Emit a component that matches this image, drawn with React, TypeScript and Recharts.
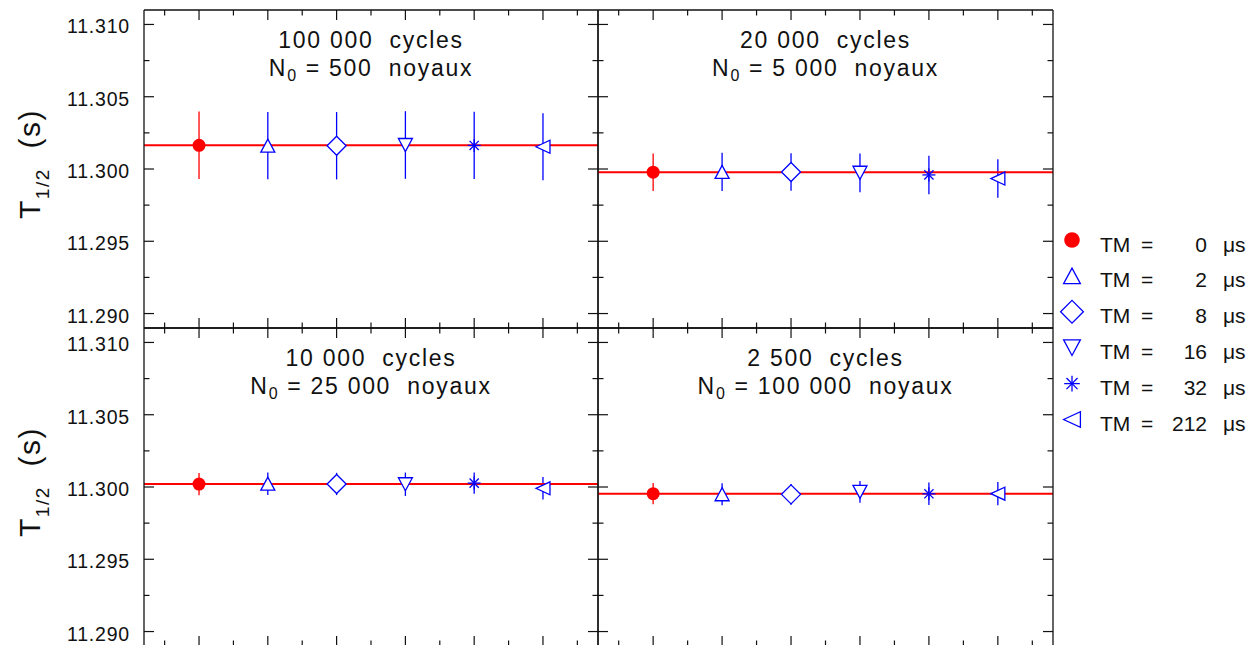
import React from "react";
import {
  ScatterChart,
  Scatter,
  XAxis,
  YAxis,
  ErrorBar,
  ReferenceLine,
  Legend,
} from "recharts";

const TM_VALUES = [0, 2, 8, 16, 32, 212];
const X_POSITIONS = [1, 2, 3, 4, 5, 6];
const SYMBOLS = ["circle", "up", "diamond", "down", "star", "left"];

const CYCLES = ["100 000", "20 000", "10 000", "2 500"];
const NUCLEI = ["500", "5 000", "25 000", "100 000"];

const T_100000 = [11.30164, 11.30162, 11.30161, 11.30166, 11.30163, 11.30154];
const ERR_100000 = [0.00233, 0.00233, 0.00233, 0.00234, 0.00233, 0.00232];
const T_20000 = [11.29978, 11.2998, 11.29979, 11.29974, 11.29959, 11.29934];
const ERR_20000 = [0.0013, 0.00133, 0.0013, 0.00134, 0.00133, 0.00133];
const T_10000 = [11.3002, 11.30023, 11.30021, 11.30019, 11.30027, 11.29991];
const ERR_10000 = [0.00077, 0.00078, 0.00077, 0.00081, 0.00073, 0.00078];
const T_2500 = [11.29954, 11.2995, 11.29949, 11.29966, 11.29953, 11.29954];
const ERR_2500 = [0.00074, 0.00076, 0.00072, 0.00075, 0.00078, 0.0008];
const FITS = [11.30165, 11.29977, 11.30021, 11.29954];

const Y_TICKS = [11.29, 11.2925, 11.295, 11.2975, 11.3, 11.3025, 11.305, 11.3075, 11.31];
const X_TICKS = [0.5, 1, 1.5, 2, 2.5, 3, 3.5, 4, 4.5, 5, 5.5, 6, 6.5];

const RED = "#ff0000";
const BLUE = "#0000ff";
const INK = "#111";
const FONT = "'Liberation Sans', Arial, sans-serif";
const NB = "\u00a0";

const isMajorY = (v: number) => Math.abs(v * 200 - Math.round(v * 200)) < 1e-6;
const isMajorX = (v: number) => Math.abs(v - Math.round(v)) < 1e-6;

const Marker = ({ kind, cx, cy, s = 1 }: any) => {
  if (cx == null || cy == null) return null;
  const sw = 1.3;
  switch (kind) {
    case "circle":
      return <circle cx={cx} cy={cy} r={6.5 * s} fill={RED} />;
    case "up":
      return (
        <polygon
          points={`${cx - 7 * s},${cy + 6.5 * s} ${cx + 7 * s},${cy + 6.5 * s} ${cx},${cy - 6.5 * s}`}
          fill="#fff"
          stroke={BLUE}
          strokeWidth={sw}
        />
      );
    case "down":
      return (
        <polygon
          points={`${cx - 7 * s},${cy - 6.5 * s} ${cx + 7 * s},${cy - 6.5 * s} ${cx},${cy + 6.5 * s}`}
          fill="#fff"
          stroke={BLUE}
          strokeWidth={sw}
        />
      );
    case "diamond":
      return (
        <polygon
          points={`${cx},${cy - 9.5 * s} ${cx + 9.5 * s},${cy} ${cx},${cy + 9.5 * s} ${cx - 9.5 * s},${cy}`}
          fill="#fff"
          stroke={BLUE}
          strokeWidth={sw}
        />
      );
    case "left":
      return (
        <polygon
          points={`${cx - 7 * s},${cy} ${cx + 7 * s},${cy - 6.5 * s} ${cx + 7 * s},${cy + 6.5 * s}`}
          fill="#fff"
          stroke={BLUE}
          strokeWidth={sw}
        />
      );
    case "star": {
      const a = 6.5 * s;
      const d = 4.6 * s;
      return (
        <g stroke={BLUE} strokeWidth={sw}>
          <line x1={cx} y1={cy - a} x2={cx} y2={cy + a} />
          <line x1={cx - a} y1={cy} x2={cx + a} y2={cy} />
          <line x1={cx - d} y1={cy - d} x2={cx + d} y2={cy + d} />
          <line x1={cx - d} y1={cy + d} x2={cx + d} y2={cy - d} />
        </g>
      );
    }
    default:
      return null;
  }
};

const XTick = ({ x, y, payload, side }: any) => {
  const len = isMajorX(payload.value) ? 10 : 5.5;
  const dir = side === "bottom" ? -1 : 1;
  return <line x1={x} x2={x} y1={y} y2={y + dir * len} stroke={INK} strokeWidth={1.2} />;
};

const YTick = ({ x, y, payload, side, labelled }: any) => {
  const major = isMajorY(payload.value);
  const len = major ? 10 : 5.5;
  const dir = side === "left" ? 1 : -1;
  return (
    <g>
      <line x1={x} x2={x + dir * len} y1={y} y2={y} stroke={INK} strokeWidth={1.2} />
      {labelled && major && (
        <text
          x={x - 14}
          y={y + 9}
          textAnchor="end"
          fontSize={19.5}
          letterSpacing={0.8}
          fontFamily={FONT}
          fill={INK}
        >
          {payload.value.toFixed(3)}
        </text>
      )}
    </g>
  );
};

const YTitle = ({ viewBox }: any) => {
  const vb = viewBox || { x: 0, y: 0 };
  const x = 40;
  const y = vb.y + 209;
  return (
    <text
      transform={`rotate(-90 ${x} ${y})`}
      x={x}
      y={y}
      fontSize={30}
      letterSpacing={1.5}
      fontFamily={FONT}
      fill={INK}
    >
      T
      <tspan fontSize={19} dy={9}>
        1/2
      </tspan>
      <tspan dy={-9}>{`${NB}${NB}(s)`}</tspan>
    </text>
  );
};

const PanelTitle = ({ viewBox, cycles, nuclei }: any) => {
  const vb = viewBox || { x: 0, y: 0, width: 0 };
  const cx = vb.x + vb.width / 2;
  return (
    <g fontFamily={FONT} fontSize={23} fill={INK}>
      <text x={cx} y={vb.y + 38.5} textAnchor="middle" letterSpacing={1.7}>
        {`${cycles}${NB}${NB}cycles`}
      </text>
      <text x={cx} y={vb.y + 67} textAnchor="middle" letterSpacing={1.7}>
        N
        <tspan fontSize={16} dy={5}>
          0
        </tspan>
        <tspan dy={-5}>{` = ${nuclei}${NB}${NB}noyaux`}</tspan>
      </text>
    </g>
  );
};

const LegendBox = () => (
  <svg width={200} height={220} style={{ display: "block", overflow: "visible" }}>
    {SYMBOLS.map((s, i) => {
      const cy = 18 + i * 35.9;
      const ty = cy + 11.5;
      return (
        <g key={s} fontFamily={FONT} fontSize={21} fill={INK}>
          <Marker kind={s} cx={17} cy={cy} s={1.2} />
          <text x={45} y={ty}>TM</text>
          <text x={86} y={ty}>=</text>
          <text x={152} y={ty} textAnchor="end">
            {TM_VALUES[i]}
          </text>
          <text x={168} y={ty}>μs</text>
        </g>
      );
    })}
  </svg>
);

const Panel = ({ idx, values, errors, left, top, labelled, withLegend }: any) => {
  const axisW = labelled ? 144 : 1;
  const plotW = labelled ? 454 : 455;
  const extra = withLegend ? 200 : 0;
  const width = axisW + plotW + 1 + extra;
  const height = 320;
  return (
    <div style={{ position: "absolute", left, top, width, height }}>
      <ScatterChart
        width={width}
        height={height}
        margin={{ top: 0, right: extra, bottom: 0, left: 0 }}
      >
        <XAxis
          xAxisId="b"
          type="number"
          dataKey="x"
          domain={[0.2, 6.8]}
          ticks={X_TICKS}
          interval={0}
          allowDataOverflow
          height={1}
          tickSize={0}
          tickMargin={0}
          tickLine={false}
          axisLine={{ stroke: INK, strokeWidth: 1.3 }}
          tick={(p: any) => <XTick {...p} side="bottom" />}
        />
        <XAxis
          xAxisId="t"
          orientation="top"
          type="number"
          dataKey="x"
          domain={[0.2, 6.8]}
          ticks={X_TICKS}
          interval={0}
          allowDataOverflow
          height={1}
          tickSize={0}
          tickMargin={0}
          tickLine={false}
          axisLine={{ stroke: INK, strokeWidth: 1.3 }}
          tick={(p: any) => <XTick {...p} side="top" />}
          label={<PanelTitle cycles={CYCLES[idx]} nuclei={NUCLEI[idx]} />}
        />
        <YAxis
          yAxisId="l"
          type="number"
          dataKey="y"
          domain={[11.289, 11.311]}
          ticks={Y_TICKS}
          interval={0}
          allowDataOverflow
          width={axisW}
          tickSize={0}
          tickMargin={0}
          tickLine={false}
          axisLine={{ stroke: INK, strokeWidth: 1.3 }}
          tick={(p: any) => <YTick {...p} side="left" labelled={labelled} />}
          label={labelled ? <YTitle /> : undefined}
        />
        <YAxis
          yAxisId="r"
          orientation="right"
          type="number"
          dataKey="y"
          domain={[11.289, 11.311]}
          ticks={Y_TICKS}
          interval={0}
          allowDataOverflow
          width={1}
          tickSize={0}
          tickMargin={0}
          tickLine={false}
          axisLine={{ stroke: INK, strokeWidth: 1.3 }}
          tick={(p: any) => <YTick {...p} side="right" labelled={false} />}
        />
        {SYMBOLS.map((s, i) => (
          <Scatter
            key={s}
            name={`TM = ${TM_VALUES[i]} μs`}
            xAxisId="b"
            yAxisId="l"
            data={[{ x: X_POSITIONS[i], y: values[i], err: errors[i] }]}
            shape={(p: any) => <Marker kind={s} cx={p.cx} cy={p.cy} />}
            isAnimationActive={false}
          >
            <ErrorBar
              dataKey="err"
              direction="y"
              width={0}
              stroke={i === 0 ? RED : BLUE}
              strokeWidth={1.3}
              isAnimationActive={false}
            />
          </Scatter>
        ))}
        <ReferenceLine
          y={FITS[idx]}
          xAxisId="b"
          yAxisId="l"
          stroke={RED}
          strokeWidth={2}
        />
        {withLegend && (
          <Legend
            layout="horizontal"
            verticalAlign="middle"
            align="center"
            wrapperStyle={{ left: 458, top: 213, width: 200, height: 220 }}
            content={() => <LegendBox />}
          />
        )}
      </ScatterChart>
    </div>
  );
};

export default function App() {
  return (
    <div
      style={{
        position: "absolute",
        left: 0,
        top: 0,
        width: 1255,
        height: 645,
        background: "#fff",
        overflow: "hidden",
      }}
    >
      <Panel idx={0} values={T_100000} errors={ERR_100000} left={0} top={9} labelled />
      <Panel idx={1} values={T_20000} errors={ERR_20000} left={597} top={9} withLegend />
      <Panel idx={2} values={T_10000} errors={ERR_10000} left={0} top={327} labelled />
      <Panel idx={3} values={T_2500} errors={ERR_2500} left={597} top={327} />
    </div>
  );
}
